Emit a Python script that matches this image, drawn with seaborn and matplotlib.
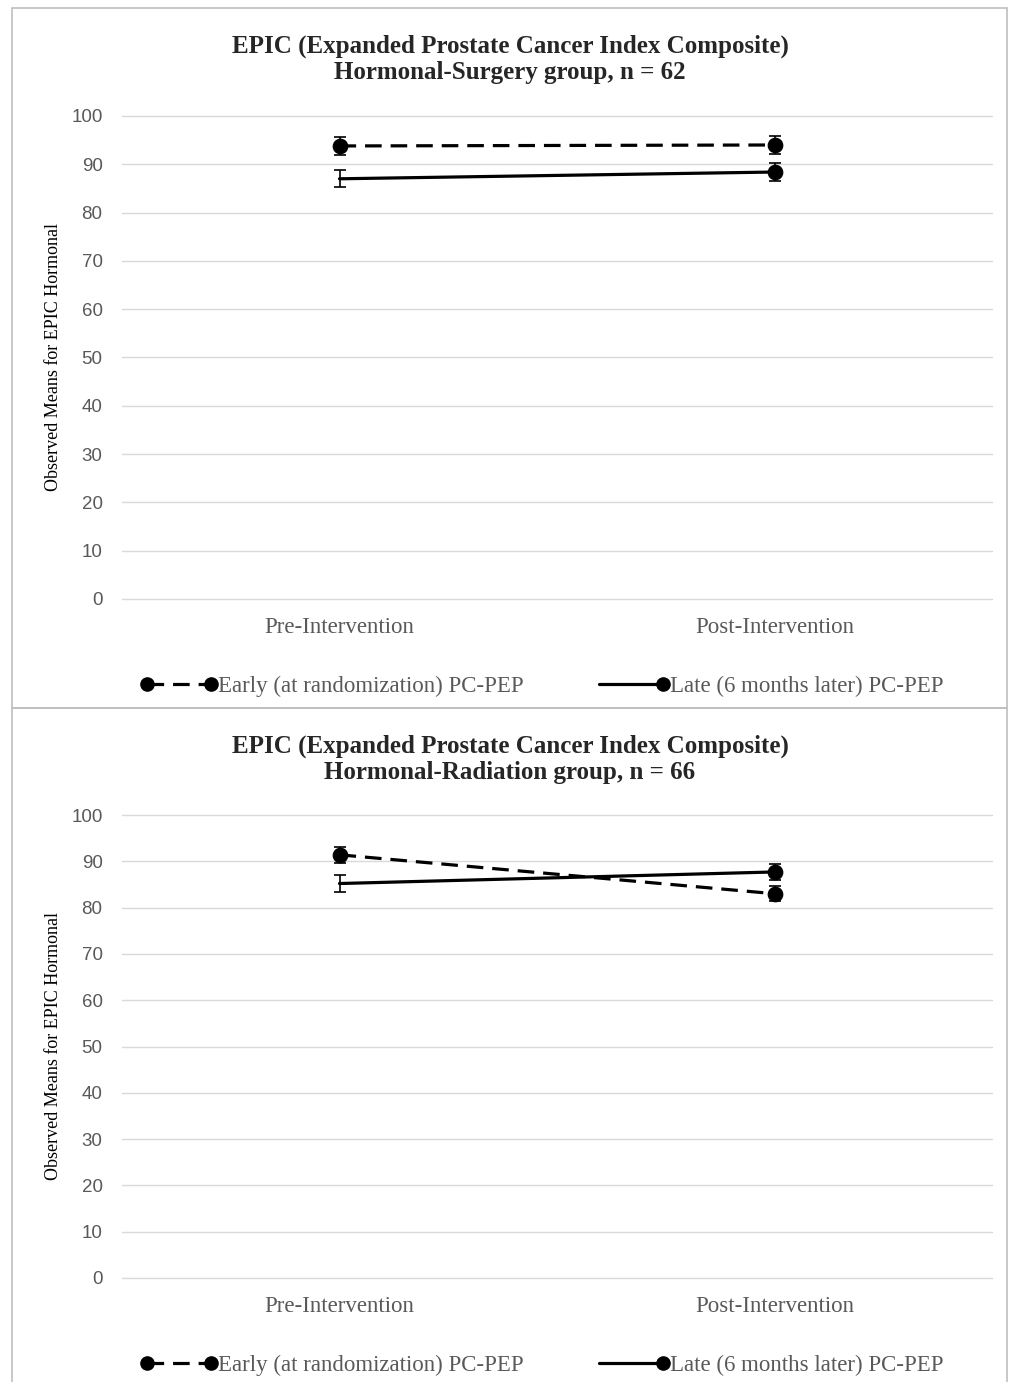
import numpy as np
import pandas as pd
import matplotlib.pyplot as plt
import seaborn as sns
from matplotlib.lines import Line2D
from matplotlib.patches import Rectangle
from matplotlib.legend_handler import HandlerLine2D

# 数据
timepoints = ['Pre-Intervention', 'Post-Intervention']
titles = ['EPIC (Expanded Prostate Cancer Index Composite)\nHormonal-Surgery group, n = 62',
          'EPIC (Expanded Prostate Cancer Index Composite)\nHormonal-Radiation group, n = 66']
early_mean = [[93.8, 94.0], [91.4, 83.0]]
early_err = [[1.8, 1.9], [1.7, 1.6]]
late_mean = [[87.0, 88.4], [85.2, 87.7]]
late_err = [[1.8, 1.8], [1.8, 1.7]]
early_label = 'Early (at randomization) PC-PEP'
late_label = 'Late (6 months later) PC-PEP'


# 图例: 只在右端画点
class RightMarkerHandler(HandlerLine2D):
    def create_artists(self, *args, **kwargs):
        arts = super().create_artists(*args, **kwargs)
        for a in arts:
            a.set_markevery([len(a.get_xdata()) - 1])
        return arts


sns.set_theme(style='white')
plt.rcParams['font.family'] = ['Liberation Serif', 'DejaVu Serif']

fig = plt.figure(figsize=(10.19, 13.82), dpi=100)
W, H = 1019, 1382
grey = '#595959'

# 每个面板: (框顶, 框底, 轴顶px, 轴底px)
panels = [(8, 708, 116, 599), (708, 1390, 815, 1278)]

for i, (ftop, fbot, atop, abot) in enumerate(panels):
    # 外框
    fig.patches.append(Rectangle((12 / W, 1 - fbot / H), 995 / W, (fbot - ftop) / H,
                                 transform=fig.transFigure, fill=False,
                                 edgecolor='#bfbfbf', lw=1.2))
    ax = fig.add_axes([122 / W, 1 - abot / H, 870 / W, (abot - atop) / H])
    x = np.arange(len(timepoints))
    df = pd.DataFrame({'x': x, 'early': early_mean[i], 'late': late_mean[i]})

    # 误差线
    ax.errorbar(x, early_mean[i], yerr=early_err[i], fmt='none', ecolor='black',
                elinewidth=1.2, capsize=4, capthick=1.2, zorder=3)
    ax.errorbar(x, late_mean[i], yerr=late_err[i], fmt='none', ecolor='black',
                elinewidth=1.2, capsize=4, capthick=1.2, zorder=3)

    # 折线
    sns.lineplot(data=df, x='x', y='early', ax=ax, color='black', lw=2.3,
                 sort=False, zorder=4)
    ax.lines[-1].set_dashes((5.2, 2.8))
    sns.lineplot(data=df, x='x', y='late', ax=ax, color='black', lw=2.3,
                 sort=False, zorder=4)
    # 标记点 (Late 只在 Post 显示)
    sns.scatterplot(data=df, x='x', y='early', ax=ax, color='black', s=110,
                    edgecolor='black', zorder=5)
    sns.scatterplot(data=df.iloc[1:], x='x', y='late', ax=ax, color='black', s=110,
                    edgecolor='black', zorder=5)

    ax.set_xlim(-0.5, 1.5)
    ax.set_ylim(0, 100)
    ax.set_yticks(range(0, 101, 10))
    ax.set_xticks(x)
    ax.set_xticklabels(timepoints, fontsize=16.5, color=grey)
    for lab in ax.get_yticklabels():
        lab.set_family(['Liberation Sans', 'DejaVu Sans'])
        lab.set_fontsize(13.5)
        lab.set_color(grey)
    ax.tick_params(axis='both', length=0)
    ax.tick_params(axis='x', pad=13)
    ax.tick_params(axis='y', pad=14)
    ax.grid(axis='y', color='#d9d9d9', lw=1)
    for gl in ax.get_ygridlines():
        gl.set_clip_on(False)
    for s in ax.spines.values():
        s.set_visible(False)
    ax.set_xlabel('')
    ax.set_ylabel('Observed Means for EPIC Hormonal', fontsize=13, color='black')
    ax.yaxis.set_label_coords(-60 / 870, 0.5)

    # 标题
    fig.text(510 / W, 1 - (ftop + 51) / H, titles[i], ha='center', va='center',
             fontsize=18, fontweight='bold', linespacing=1.15)

    # 图例
    h1 = Line2D([], [], color='black', lw=2.3, ls=(0, (5.2, 2.8)), marker='o', markersize=9.5)
    h2 = Line2D([], [], color='black', lw=2.3, ls='-', marker='o', markersize=9.5)
    leg = fig.legend([h1, h2], [early_label, late_label], loc='center',
                     bbox_to_anchor=(542 / W, 1 - (abot + 87) / H), ncol=2, frameon=False,
                     numpoints=2, handlelength=3.4, handletextpad=0, columnspacing=3.0,
                     fontsize=16.5, handler_map={h2: RightMarkerHandler()})
    for t in leg.get_texts():
        t.set_color(grey)

fig.savefig('out.png', dpi=100)
